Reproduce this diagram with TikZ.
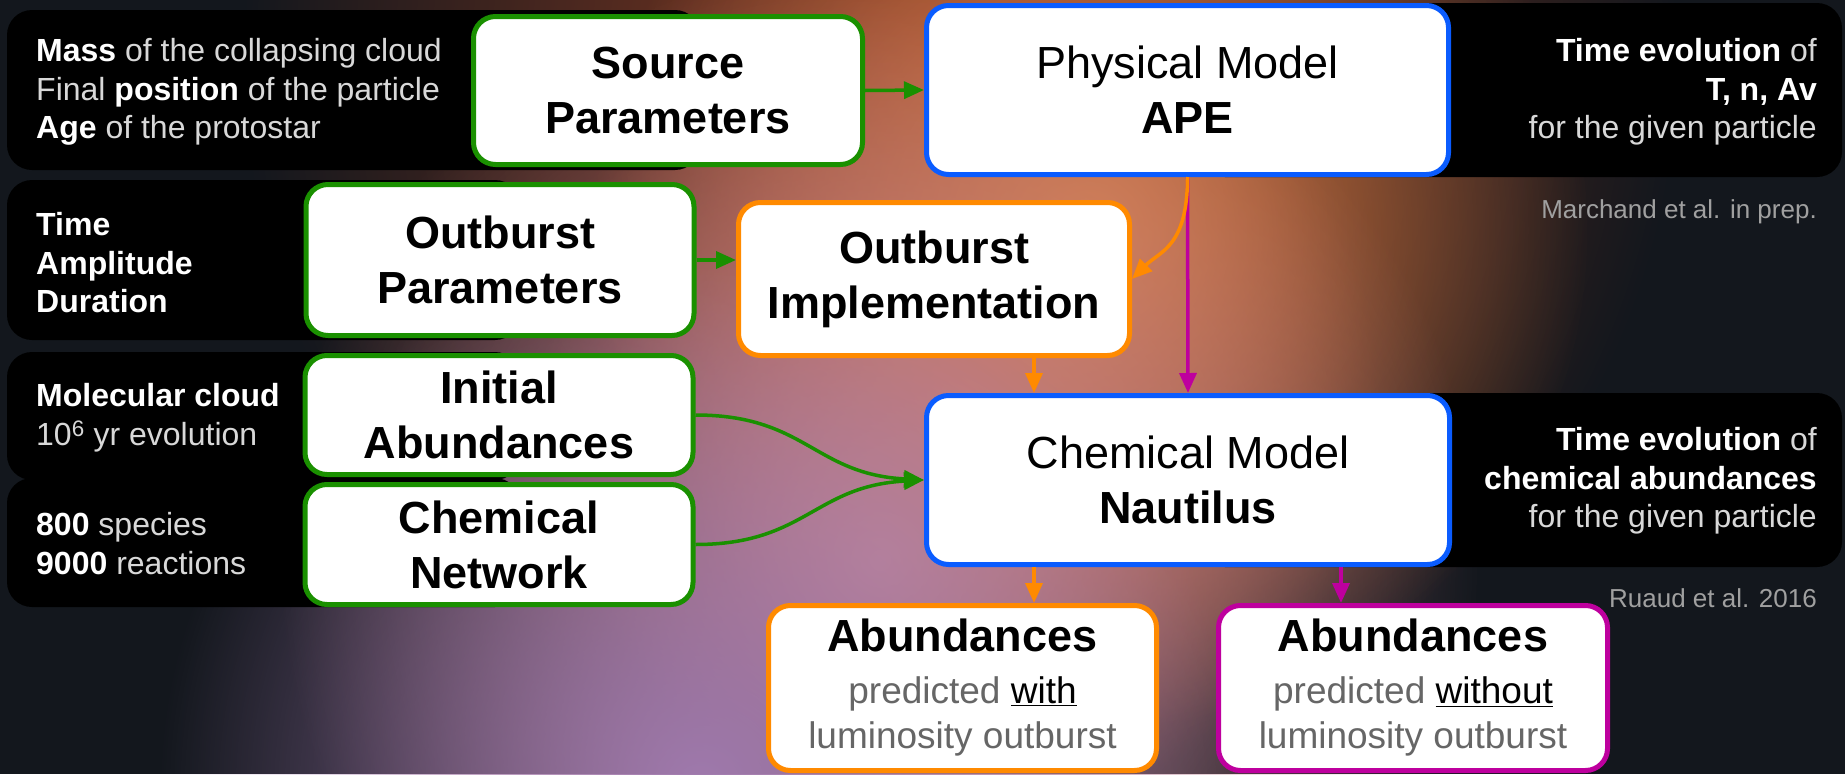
\documentclass[tikz,border=0pt]{standalone}
\usepackage{fontspec}
\setmainfont{Liberation Sans}
\usetikzlibrary{arrows.meta,fadings}
\definecolor{cgreen}{HTML}{1A9000}
\definecolor{cblue}{HTML}{0A5CFF}
\definecolor{corange}{HTML}{FF8A00}
\definecolor{cmag}{HTML}{BE009E}
\definecolor{bgbase}{HTML}{13171D}
\definecolor{glowa}{HTML}{8E3C22}
\definecolor{glowb}{HTML}{D47C44}
\definecolor{glowc}{HTML}{C48590}
\definecolor{glowd}{HTML}{A07AAE}
\definecolor{glowe}{HTML}{A85048}
\definecolor{paneltext}{HTML}{D8D8D8}
\definecolor{subgray}{HTML}{666666}
\definecolor{citegray}{HTML}{A0A0A0}
\tikzfading[name=glowfade, inner color=transparent!0, outer color=transparent!100]
\newcommand\ttlf{\fontsize{45}{55}\selectfont}
\newcommand\pnlf{\fontsize{32}{38.5}\selectfont}
\newcommand\subf{\fontsize{37}{45}\selectfont}
\newcommand\citf{\fontsize{26}{32}\selectfont}
\newcommand\wb[1]{\textcolor{white}{\textbf{#1}}}
\tikzset{
  box/.style={draw, line width=5pt, fill=white, rounded corners=22pt, align=center, inner sep=0pt, text=black, font=\ttlf},
  gbox/.style={box, draw=cgreen},
  bbox/.style={box, draw=cblue},
  obox/.style={box, draw=corange},
  mbox/.style={box, draw=cmag},
  panel/.style={fill=black, rounded corners=25pt},
  ptext/.style={inner sep=0pt, text=paneltext, font=\pnlf},
  ctext/.style={inner sep=0pt, text=citegray, font=\citf, anchor=east},
  arr/.style={line width=3.5pt, -{Triangle[length=20pt,width=17pt]}},
  garr/.style={arr, draw=cgreen},
  oarr/.style={arr, draw=corange},
  marr/.style={arr, draw=cmag}
}
\begin{document}
\begin{tikzpicture}[x=1pt,y=-1pt]
\useasboundingbox (0,0) rectangle (1845,774);
% background
\fill[bgbase] (0,0) rectangle (1845,774);
\fill[glowa, path fading=glowfade] (960,60) circle (720);
\fill[glowe, path fading=glowfade] (960,400) circle (420);
\fill[glowb, path fading=glowfade] (1090,230) circle (500);
\fill[glowc, path fading=glowfade] (880,560) circle (600);
\fill[glowd, path fading=glowfade] (700,790) circle (540);
% panels
\fill[panel] (7,10) rectangle (700,170);
\fill[panel] (7,180) rectangle (520,340);
\fill[panel] (7,352) rectangle (520,480);
\fill[panel] (7,478) rectangle (520,607);
\fill[panel] (1200,3) rectangle (1842,177);
\fill[panel] (1200,393) rectangle (1842,567);
% panel texts
\node[ptext, anchor=west, align=left] (t1) at (36,92) {\wb{Mass} of the collapsing cloud\\Final \wb{position} of the particle\\\wb{Age} of the protostar};
\node[ptext, anchor=west, align=left] (t2) at (36,263) {\wb{Time}\\\wb{Amplitude}\\\wb{Duration}};
\node[ptext, anchor=west, align=left] (t3) at (36,417.5) {\wb{Molecular cloud}\\10\textsuperscript{6} yr evolution};
\node[ptext, anchor=west, align=left] (t4) at (36,543.5) {\wb{800} species\\\wb{9000} reactions};
\node[ptext, anchor=east, align=right] (t5) at (1817,92) {\wb{Time evolution} of\\\wb{T, n, Av}\\for the given particle};
\node[ptext, anchor=east, align=right] (t6) at (1817,481) {\wb{Time evolution} of\\\wb{chemical abundances}\\for the given particle};
\node[ctext] (c1) at (1817,212) {Marchand et al. in prep.};
\node[ctext] (c2) at (1817,598) {Ruaud et al. 2016};
% boxes
\node[gbox, font=\ttlf\bfseries, minimum width=389pt, minimum height=148pt] (src) at (668,90.5) {Source\\Parameters};
\node[bbox, minimum width=522pt, minimum height=169pt] (phys) at (1187.5,90) {Physical Model\\\textbf{APE}};
\node[gbox, font=\ttlf\bfseries, minimum width=388pt, minimum height=151pt] (obp) at (500,260) {Outburst\\Parameters};
\node[obox, font=\ttlf\bfseries, minimum width=391pt, minimum height=153pt] (obi) at (934,279) {Outburst\\Implementation};
\node[gbox, font=\ttlf\bfseries, minimum width=388pt, minimum height=119pt] (ini) at (499,415) {Initial\\Abundances};
\node[gbox, font=\ttlf\bfseries, minimum width=388pt, minimum height=120pt] (net) at (499,544.5) {Chemical\\Network};
\node[bbox, minimum width=523pt, minimum height=169pt] (chem) at (1188,480) {Chemical Model\\\textbf{Nautilus}};
\node[obox, font=\subf, minimum width=388pt, minimum height=165pt] (abw) at (962.5,688) {{\ttlf\bfseries Abundances}\\[7pt]\textcolor{subgray}{predicted} \underline{with}\\\textcolor{subgray}{luminosity outburst}};
\node[mbox, font=\subf, minimum width=389pt, minimum height=165pt] (abwo) at (1413,688) {{\ttlf\bfseries Abundances}\\[7pt]\textcolor{subgray}{predicted} \underline{without}\\\textcolor{subgray}{luminosity outburst}};
% connectors
\draw[garr] (src.east) -- (phys.west);
\draw[garr] (obp.east) -- (obp.east -| obi.west);
\draw[marr] (phys.south) -- (chem.north);
\draw[oarr] (phys.south) .. controls +(0,70) and +(28,-28) .. (obi.east);
\draw[oarr] ([xshift=100pt]obi.south) -- ([xshift=100pt]obi.south |- chem.north);
\draw[garr] (ini.east) .. controls +(110,0) and +(-110,-6) .. (chem.west);
\draw[garr] (net.east) .. controls +(110,0) and +(-110,6) .. (chem.west);
\draw[oarr] ([xshift=-154pt]chem.south) -- ([xshift=-154pt]chem.south |- abw.north);
\draw[marr] ([xshift=153pt]chem.south) -- ([xshift=153pt]chem.south |- abwo.north);
\end{tikzpicture}
\end{document}
